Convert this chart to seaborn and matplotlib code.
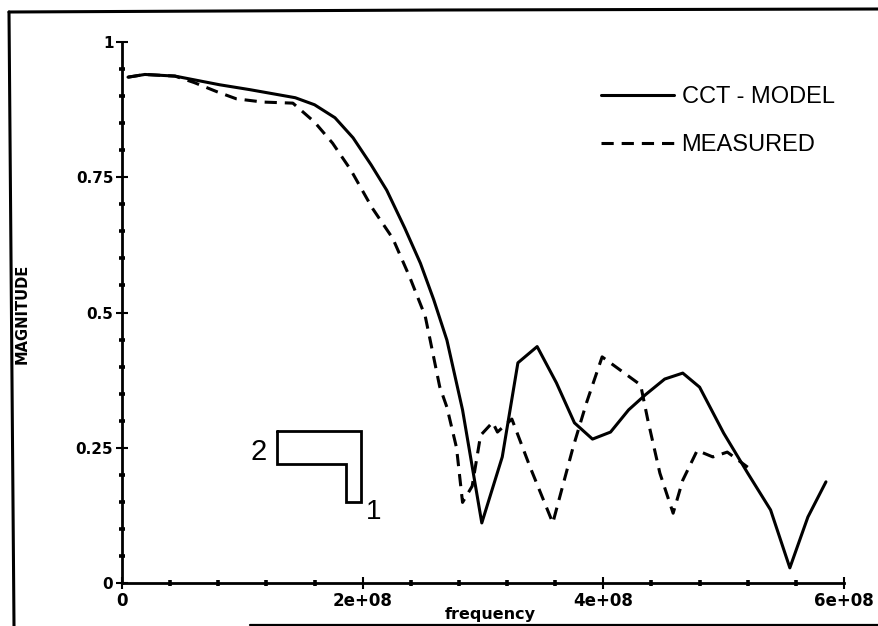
import numpy as np
import pandas as pd
import seaborn as sns
import matplotlib.pyplot as plt
from matplotlib.lines import Line2D
from matplotlib.ticker import MultipleLocator

model_freq = [0.05, 0.19, 0.44, 0.81, 1.06, 1.44, 1.60, 1.77, 1.92, 2.07, 2.20, 2.35, 2.48,
              2.59, 2.70, 2.83, 2.99, 3.16, 3.29, 3.45, 3.61, 3.76, 3.91, 4.06, 4.21, 4.35,
              4.51, 4.66, 4.80, 5.00, 5.20, 5.39, 5.55, 5.70, 5.85]
model_mag = [0.935, 0.940, 0.937, 0.921, 0.912, 0.897, 0.884, 0.860, 0.823, 0.773, 0.726,
             0.656, 0.591, 0.524, 0.449, 0.320, 0.111, 0.233, 0.407, 0.437, 0.370, 0.296,
             0.266, 0.279, 0.320, 0.348, 0.377, 0.388, 0.362, 0.277, 0.203, 0.135, 0.028,
             0.122, 0.187]

meas_freq = [0.05, 0.19, 0.44, 0.60, 0.79, 0.95, 1.17, 1.42, 1.60, 1.75, 1.90, 2.08, 2.25,
             2.39, 2.52, 2.56, 2.64, 2.70, 2.78, 2.83, 2.91, 2.98, 3.08, 3.12, 3.24, 3.39,
             3.58, 3.75, 3.86, 3.99, 4.31, 4.37, 4.47, 4.58, 4.66, 4.78, 4.91, 5.03, 5.20]
meas_mag = [0.935, 0.940, 0.937, 0.925, 0.908, 0.895, 0.889, 0.887, 0.852, 0.813, 0.764,
            0.693, 0.637, 0.566, 0.493, 0.450, 0.363, 0.325, 0.250, 0.149, 0.179, 0.273,
            0.297, 0.279, 0.303, 0.215, 0.111, 0.252, 0.333, 0.418, 0.366, 0.301, 0.203,
            0.129, 0.190, 0.245, 0.233, 0.242, 0.214]

y_ticks = [0, 0.25, 0.5, 0.75, 1]
y_labels = ['0', '0.25', '0.5', '0.75', '1']
x_ticks = [0, 2e8, 4e8, 6e8]
x_labels = ['0', '2e+08', '4e+08', '6e+08']

# the little L shaped conductor drawn by hand on the plot
shape_x = [1.288e8, 1.987e8, 1.987e8, 1.862e8, 1.862e8, 1.288e8, 1.288e8]
shape_y = [0.281, 0.281, 0.150, 0.150, 0.220, 0.220, 0.281]

sns.set_theme(style='white')
plt.rcParams['font.family'] = ['DejaVu Sans']

fig = plt.figure(figsize=(8.79, 6.26), dpi=100)
ax = fig.add_axes([122 / 879, 43 / 626, 722 / 879, 541 / 626])
ax.patch.set_alpha(0)

model = pd.DataFrame({'freq': np.array(model_freq) * 1e8, 'mag': model_mag})
meas = pd.DataFrame({'freq': np.array(meas_freq) * 1e8, 'mag': meas_mag})
sns.lineplot(data=model, x='freq', y='mag', color='black', lw=2.2, label='CCT - MODEL', ax=ax)
sns.lineplot(data=meas, x='freq', y='mag', color='black', lw=2.2, linestyle=(0, (4, 2.6)),
             label='MEASURED', ax=ax)
ax.plot(shape_x, shape_y, color='black', lw=2, solid_joinstyle='miter')
ax.text(1.07e8, 0.243, '2', fontsize=21, ha='left', va='center', color='black',
        family='Liberation Sans')
ax.text(2.09e8, 0.132, '1', fontsize=20, ha='center', va='center', color='black',
        family='Liberation Sans')

ax.set_xlim(0, 6e8)
ax.set_ylim(0, 1)
ax.set_xticks(x_ticks, x_labels)
ax.set_yticks(y_ticks, y_labels)
ax.xaxis.set_minor_locator(MultipleLocator(0.4e8))
ax.yaxis.set_minor_locator(MultipleLocator(0.05))
ax.spines['top'].set_visible(False)
ax.spines['right'].set_visible(False)
ax.spines['left'].set_linewidth(2)
ax.spines['bottom'].set_linewidth(2)
ax.spines['left'].set_color('black')
ax.spines['bottom'].set_color('black')
ax.tick_params(which='major', direction='inout', length=8.5, width=1.5, left=True, bottom=True,
               colors='black', pad=2)
ax.tick_params(which='minor', direction='inout', length=4, width=2.6, left=True, bottom=True,
               color='black')
for t in ax.get_xticklabels():
    t.set_fontweight('bold')
    t.set_fontsize(12)
for t in ax.get_yticklabels():
    t.set_fontweight('bold')
    t.set_fontsize(11)

ax.set_xlabel('')
ax.set_ylabel('')
fig.text(490 / 879, 1 - 615 / 626, 'frequency', fontsize=11.5, fontweight='bold',
         ha='center', va='center', color='black')
fig.text(22 / 879, 1 - 314 / 626, 'MAGNITUDE', fontsize=10.5, fontweight='bold', rotation=90,
         ha='center', va='center', color='black')

leg = ax.legend(loc='upper left', bbox_to_anchor=(580 / 879, 1 - 65 / 626),
                bbox_transform=fig.transFigure, frameon=False,
                prop={'family': 'Liberation Sans', 'size': 17}, handlelength=3.1,
                handletextpad=0.3, labelspacing=1.1, labelcolor='black')

# scanned page frame, slightly skewed and running off the right side
frame_lines = [
    ([9, 14], [12, 626], 2.2),
    ([9, 440, 879], [12, 10, 9], 2.2),
    ([250, 879], [625, 625], 1.6),
]
for xs, ys, w in frame_lines:
    fig.add_artist(Line2D(np.array(xs) / 879, 1 - np.array(ys) / 626, color='black', lw=w,
                          transform=fig.transFigure))

fig.savefig('out.png', dpi=100)
